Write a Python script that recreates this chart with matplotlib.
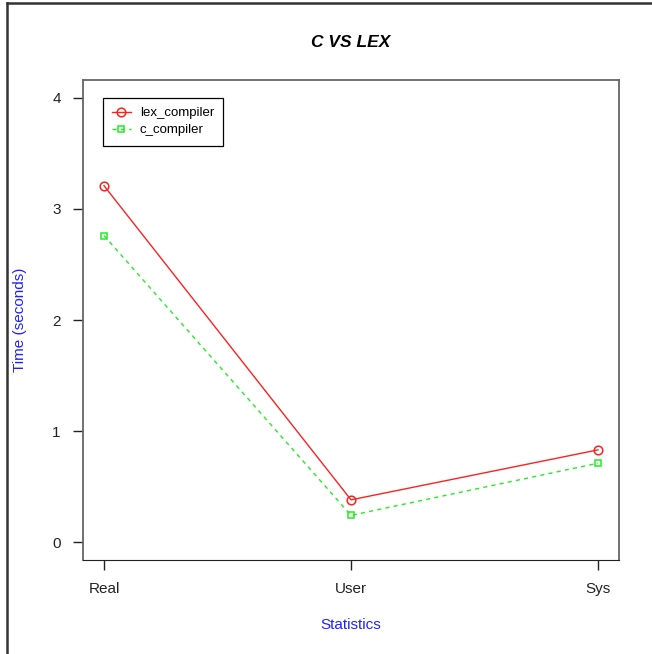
import numpy as np
import matplotlib.pyplot as plt
from matplotlib.lines import Line2D

plt.rcParams['font.family'] = ['Liberation Sans', 'DejaVu Sans']

stats = ["Real", "User", "Sys"]
lex_compiler = [3.21, 0.38, 0.83]
c_compiler = [2.76, 0.24, 0.71]

fig = plt.figure(figsize=(6.52, 6.54), dpi=100)
W, H = 652, 654
# axes box in pixels: x 83..619, y 80..560
ax = fig.add_axes([83 / W, 1 - 560 / H, (619 - 83) / W, (560 - 80) / H])

x = np.arange(1, len(stats) + 1)
ax.plot(x, lex_compiler, color="#ff2020", lw=1, marker="o", ms=6.2, mfc="none", mew=1.1, label="lex_compiler")
ax.plot(x, c_compiler, color="#22ee22", lw=1, ls=(0, (3, 3)), marker="s", ms=4.8, mfc="none", mew=1.1, label="c_compiler")

ax.set_xlim(0.915, 3.085)
ax.set_ylim(-0.162, 4.162)
ax.set_xticks(x)
ax.set_xticklabels(stats)
ax.set_yticks([0, 1, 2, 3, 4])
ax.tick_params(length=7, width=1, labelsize=11, colors="#222222", pad=9)
for s in ["left", "top", "right"]:
    ax.spines[s].set_color("#666666")
    ax.spines[s].set_linewidth(1.3)
ax.spines["bottom"].set_color("#222222")

ax.set_title("C VS LEX", fontsize=12.5, fontweight="bold", fontstyle="italic", pad=24)
ax.set_xlabel("Statistics", color="#2020ff", fontsize=11, labelpad=16)
ax.set_ylabel("Time (seconds)", color="#2020ff", fontsize=11, labelpad=18)

leg = ax.legend(loc="upper left", bbox_to_anchor=((103 - 83) / 536, 1 - (98 - 80) / 480),
                fancybox=False, framealpha=1, edgecolor="black", fontsize=9.5,
                handlelength=1.4, borderpad=0.7, labelspacing=0.35, handletextpad=0.7,
                borderaxespad=0)
leg.get_frame().set_linewidth(0.9)

# outer device frame
fig.add_artist(Line2D([7 / W, 7 / W], [0, 1 - 3 / H], color="#333333", lw=1.8, transform=fig.transFigure))
fig.add_artist(Line2D([7 / W, 1], [1 - 3 / H, 1 - 3 / H], color="#333333", lw=1.8, transform=fig.transFigure))

plt.savefig("out.png", dpi=100)
